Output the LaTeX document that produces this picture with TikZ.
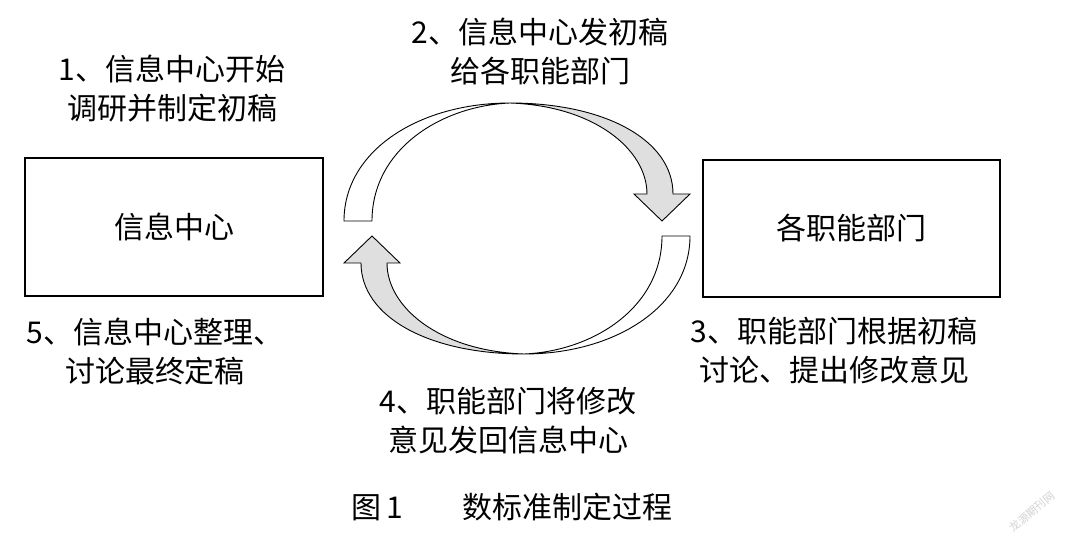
\documentclass[tikz,border=0pt]{standalone}
\usepackage{fontspec}
\setmainfont{Liberation Serif}
\newfontfamily\cjk{Noto Sans CJK SC}
\begin{document}
\begin{tikzpicture}[x=1pt,y=-1pt,
  lbl/.style={font=\cjk\fontsize{30}{39}\selectfont,align=center,inner sep=0pt},
  box/.style={draw,line width=2pt,inner sep=0pt},
  band/.style={draw,line width=0.9pt,line join=miter}]
\useasboundingbox (0,0) rectangle (1072,537);
\node[box,minimum width=298pt,minimum height=138pt] (L) at (174,227) {};
\node[lbl] (Lt) at (L.center) {信息中心};
\node[box,minimum width=297pt,minimum height=137pt] (R) at (851.5,228.5) {};
\node[lbl] (Rt) at (R.center) {各职能部门};
\newcommand\curvedarrowshape{%
  \fill[white] (344,221) .. controls (344,150) and (420,103) .. (510,103)
     .. controls (440,106) and (372,150) .. (372,221) -- cycle;
  \draw[band] (344,221) .. controls (344,150) and (420,103) .. (510,103)
     .. controls (440,106) and (372,150) .. (372,221) -- cycle;
  \draw[band,fill=gray!25] (510,103) .. controls (605,103) and (673,140) .. (673,194)
     -- (690,194) -- (662,221) -- (634,194) -- (647,194)
     .. controls (647,150) and (595,106) .. (510,103) -- cycle;}
\curvedarrowshape
\begin{scope}[rotate around={180:(517,228.5)}]
\curvedarrowshape
\end{scope}
\node[lbl] (t1) at (172,89) {1、信息中心开始\\调研并制定初稿};
\node[lbl] (t2) at (540,52) {2、信息中心发初稿\\给各职能部门};
\node[lbl] (t3) at (834,351) {3、职能部门根据初稿\\讨论、提出修改意见};
\node[lbl] (t4) at (508,421) {4、职能部门将修改\\意见发回信息中心};
\node[lbl] (t5) at (155,351) {5、信息中心整理、\\讨论最终定稿};
\node[lbl] (cap) at (512,507) {图\,1\qquad 数标准制定过程};
\node[font=\cjk\fontsize{11}{11}\selectfont,text=gray!35,rotate=40,inner sep=0pt] (wm) at (1032,512) {龙源期刊网};
\end{tikzpicture}
\end{document}
